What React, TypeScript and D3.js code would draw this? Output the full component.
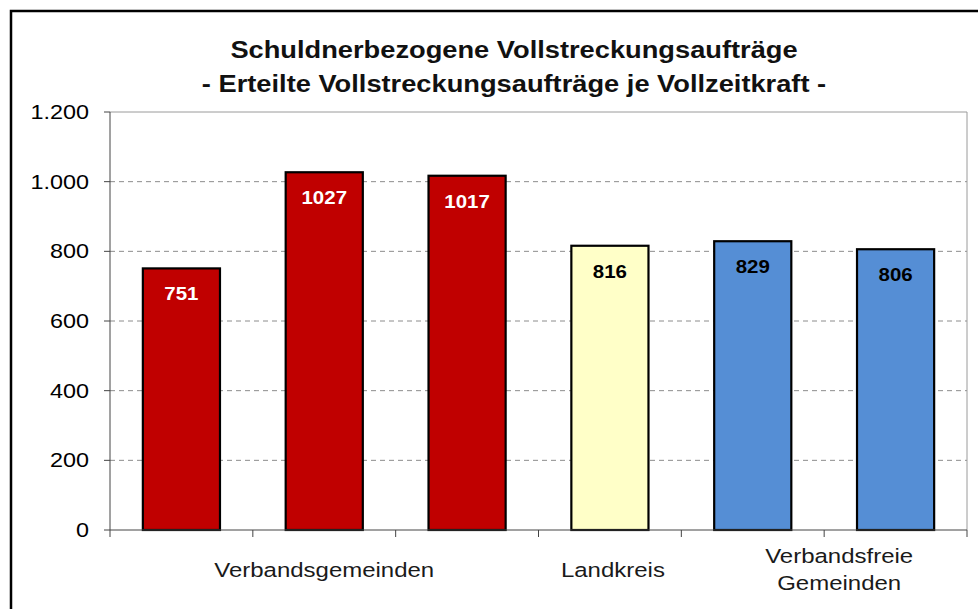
import {useEffect} from "react";
import * as d3 from "d3";

const barKeys = ["vg1", "vg2", "vg3", "lk", "vf1", "vf2"];
const barValues = [751, 1027, 1017, 816, 829, 806];
const barGroups = ["vg", "vg", "vg", "lk", "vf", "vf"];
const groupLabels = [
  {group: "vg", lines: ["Verbandsgemeinden"], shift: 0},
  {group: "lk", lines: ["Landkreis"], shift: 3},
  {group: "vf", lines: ["Verbandsfreie", "Gemeinden"], shift: 15},
];
const yTicks = [0, 200, 400, 600, 800, 1000, 1200];
const titleLines = [
  "Schuldnerbezogene Vollstreckungsaufträge",
  "- Erteilte Vollstreckungsaufträge je Vollzeitkraft -",
];

const fills: Record<string, string> = {vg: "#C00000", lk: "#FFFFC8", vf: "#558ED5"};
const labelColors: Record<string, string> = {vg: "#ffffff", lk: "#000000", vf: "#000000"};

const width = 978;
const height = 609;
const plot = {left: 110, top: 112, right: 967, bottom: 530};
const sx = 1.17; // the source picture is stretched horizontally
const font = "'Liberation Sans', Arial, sans-serif";

const fmt = (v: number) => d3.format(",")(v).replace(/,/g, ".");

export default function App() {
  useEffect(() => {
    document.body.style.margin = "0";
  }, []);

  const x = d3
    .scaleBand<string>()
    .domain(barKeys)
    .range([plot.left, plot.right])
    .paddingInner(0.46)
    .paddingOuter(0.23);
  const y = d3.scaleLinear().domain([0, 1200]).range([plot.bottom, plot.top]);
  const step = x.step();
  const bounds = d3.range(barKeys.length + 1).map((i) => plot.left + i * step);

  // Mitte jeder Gruppe aus den Balken der Gruppe
  const groupCenter = (g: string) => {
    const idx = barGroups.map((d, i) => (d === g ? i : -1)).filter((i) => i >= 0);
    return (bounds[idx[0]] + bounds[idx[idx.length - 1] + 1]) / 2;
  };

  const stretched = (tx: number, ty: number) => `translate(${tx},${ty}) scale(${sx},1)`;

  return (
    <svg width={width} height={height} style={{display: "block", background: "#fff"}} fontFamily={font}>
      <rect x={11} y={11} width={1200} height={1200} fill="#fff" stroke="#000" strokeWidth={2.5} />

      {titleLines.map((t, i) => (
        <text
          key={t}
          transform={stretched(514, 58 + i * 34)}
          textAnchor="middle"
          fontSize={23.3}
          fontWeight="bold"
          fill="#111"
        >
          {t}
        </text>
      ))}

      {/* Gitterlinien */}
      {yTicks
        .filter((t) => t > 0 && t < 1200)
        .map((t) => (
          <line
            key={t}
            x1={plot.left}
            x2={plot.right}
            y1={y(t)}
            y2={y(t)}
            stroke="#8c8c8c"
            strokeWidth={1}
            strokeDasharray="5,4"
          />
        ))}
      <line x1={plot.left} x2={plot.right} y1={plot.top} y2={plot.top} stroke="#9a9a9a" />
      <line x1={plot.right} x2={plot.right} y1={plot.top} y2={plot.bottom} stroke="#9a9a9a" />

      {/* Balken */}
      {barKeys.map((k, i) => (
        <g key={k}>
          <rect
            x={x(k)}
            y={y(barValues[i])}
            width={x.bandwidth()}
            height={y(0) - y(barValues[i])}
            fill={fills[barGroups[i]]}
            stroke="#000"
            strokeWidth={2.2}
          />
          <text
            transform={stretched((x(k) as number) + x.bandwidth() / 2, y(barValues[i]) + 32)}
            textAnchor="middle"
            fontSize={17.5}
            fontWeight="bold"
            fill={labelColors[barGroups[i]]}
          >
            {barValues[i]}
          </text>
        </g>
      ))}

      {/* y-Achse */}
      <line x1={plot.left} x2={plot.left} y1={plot.top} y2={plot.bottom} stroke="#444" />
      {yTicks.map((t) => (
        <g key={t}>
          <line x1={plot.left - 6} x2={plot.left} y1={y(t)} y2={y(t)} stroke="#444" />
          <text transform={stretched(89, y(t) + 7)} textAnchor="end" fontSize={20} fill="#000">
            {fmt(t)}
          </text>
        </g>
      ))}

      {/* x-Achse */}
      <line x1={plot.left} x2={plot.right} y1={plot.bottom} y2={plot.bottom} stroke="#444" />
      {bounds.map((b, i) => (
        <line key={i} x1={b} x2={b} y1={plot.bottom} y2={plot.bottom + 7} stroke="#444" />
      ))}
      {groupLabels.map((g) => (
        <g key={g.group}>
          {g.lines.map((l, j) => (
            <text
              key={l}
              transform={stretched(
                groupCenter(g.group) + g.shift,
                (g.lines.length > 1 ? 563 : 577) + j * 27,
              )}
              textAnchor="middle"
              fontSize={20.5}
              fill="#1a1a1a"
            >
              {l}
            </text>
          ))}
        </g>
      ))}
    </svg>
  );
}
